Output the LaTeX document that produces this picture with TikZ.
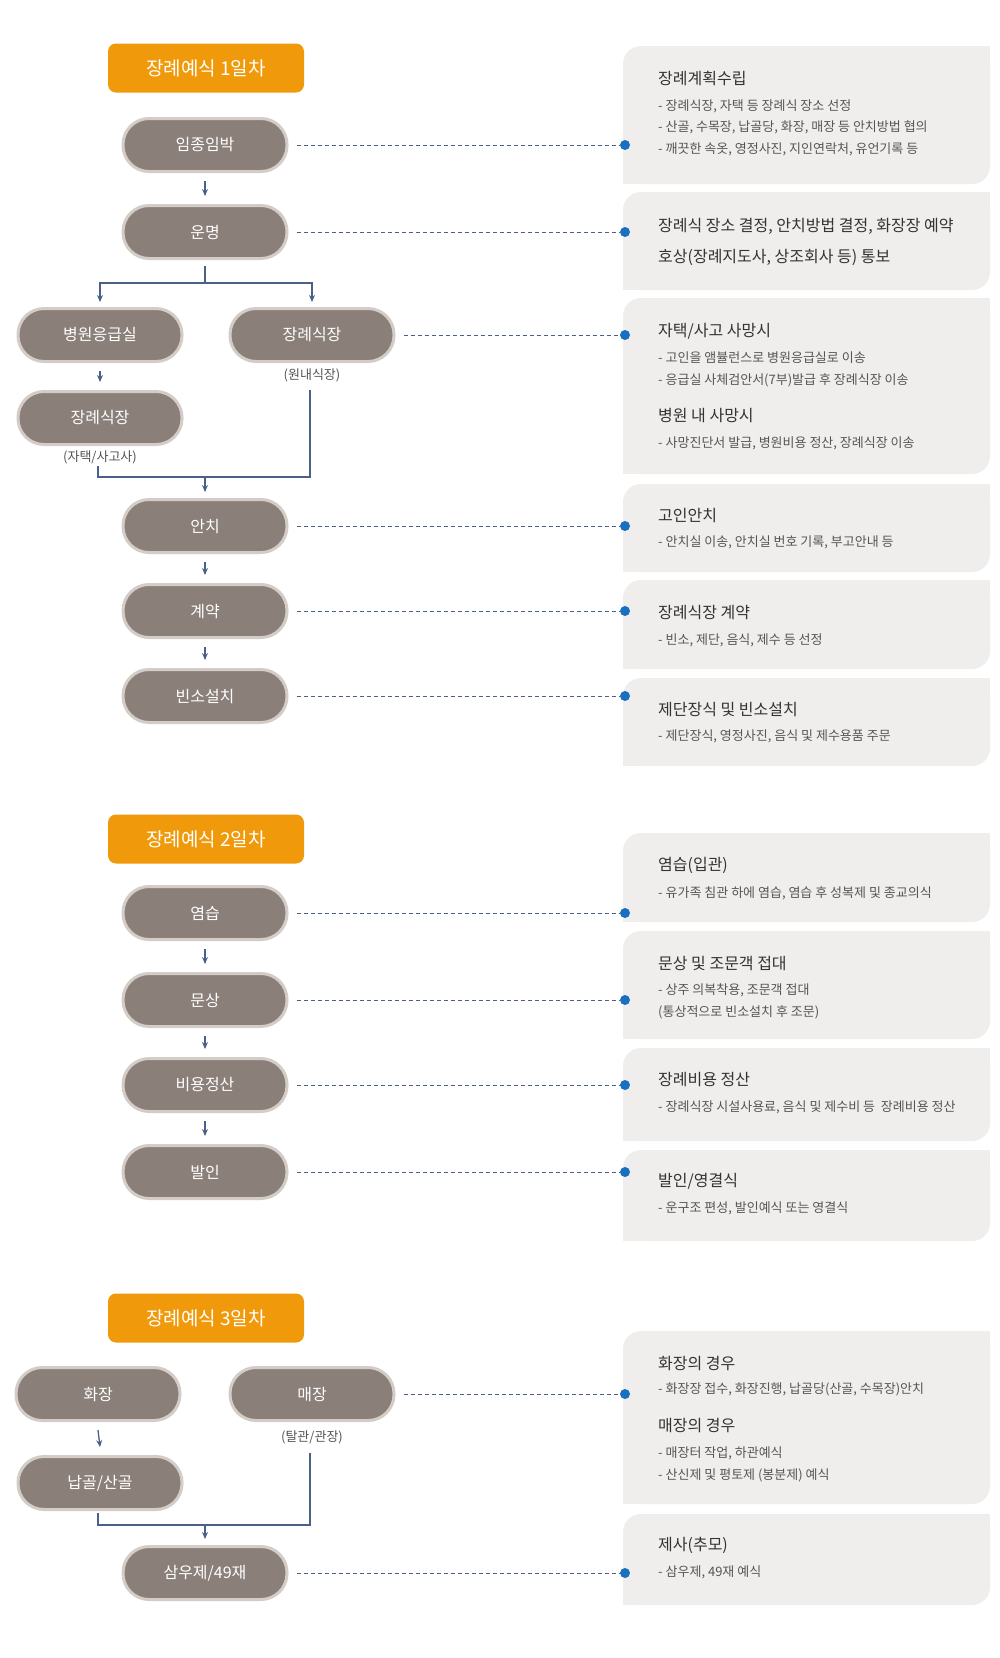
\documentclass[tikz,border=0pt]{standalone}
\usepackage{fontspec}
\setmainfont{Noto Sans CJK KR}
\usetikzlibrary{arrows.meta}
\definecolor{pillc}{HTML}{8B7F79}
\definecolor{pillb}{HTML}{D4CDC7}
\definecolor{orangec}{HTML}{F09A0B}
\definecolor{cardc}{HTML}{EFEEED}
\definecolor{linec}{HTML}{4B6088}
\definecolor{dotc}{HTML}{1A6FBF}
\definecolor{titc}{HTML}{333333}
\definecolor{bodc}{HTML}{555555}
\tikzset{
  pill/.style={draw=pillb,fill=pillc,line width=3pt,rounded corners=26pt,minimum width=164pt,minimum height=53pt,text=white,font=\fontsize{16}{18}\selectfont,inner sep=0pt},
  hdr/.style={fill=orangec,rounded corners=8pt,minimum width=196pt,minimum height=49pt,text=white,font=\fontsize{19}{21}\selectfont,inner sep=0pt},
  captn/.style={text=bodc,font=\fontsize{13}{15}\selectfont},
  ttl/.style={anchor=west,text=titc,font=\fontsize{16}{18}\selectfont,inner sep=0pt},
  bod/.style={anchor=west,text=bodc,font=\fontsize{13}{15}\selectfont,inner sep=0pt},
  arr/.style={draw=linec,line width=1.3pt,-{Stealth[length=7pt,width=6pt]}},
  seg/.style={draw=linec,line width=1.3pt},
  dashln/.style={draw=linec,line width=0.8pt,dash pattern=on 4pt off 3pt},
  dotn/.style={circle,fill=dotc,minimum size=10pt,inner sep=0pt}
}
\newcommand\mycard[2]{\fill[cardc,rounded corners=18pt] (623,#1) rectangle (990,#2);
 \fill[cardc] (960,#1) rectangle (990,#1+30); \fill[cardc] (623,#2) rectangle (653,#2-30);}
\begin{document}
\begin{tikzpicture}[x=1pt,y=-1pt]
\useasboundingbox[fill=white] (0,0) rectangle (1000,1658);
% cards
\mycard{46}{184}\mycard{192}{290}\mycard{298}{474}\mycard{484}{572}\mycard{580}{669}\mycard{678}{766}
\mycard{833}{922}\mycard{931}{1039}\mycard{1048}{1141}\mycard{1150}{1241}
\mycard{1331}{1504}\mycard{1514}{1605}
% card texts
\node[ttl] (t1) at (658,78) {장례계획수립};
\node[bod] (b1a) at (658,106) {- 장례식장, 자택 등 장례식 장소 선정};
\node[bod] (b1b) at (658,127) {- 산골, 수목장, 납골당, 화장, 매장 등 안치방법 협의};
\node[bod] (b1c) at (658,149) {- 깨끗한 속옷, 영정사진, 지인연락처, 유언기록 등};
\node[ttl] (t2a) at (658,226) {장례식 장소 결정, 안치방법 결정, 화장장 예약};
\node[ttl] (t2b) at (658,257) {호상(장례지도사, 상조회사 등) 통보};
\node[ttl] (t3) at (658,331) {자택/사고 사망시};
\node[bod] (b3a) at (658,358) {- 고인을 앰뷸런스로 병원응급실로 이송};
\node[bod] (b3b) at (658,380) {- 응급실 사체검안서(7부)발급 후 장례식장 이송};
\node[ttl] (t3b) at (658,416) {병원 내 사망시};
\node[bod] (b3c) at (658,443) {- 사망진단서 발급, 병원비용 정산, 장례식장 이송};
\node[ttl] (t4) at (658,515) {고인안치};
\node[bod] (b4) at (658,542) {- 안치실 이송, 안치실 번호 기록, 부고안내 등};
\node[ttl] (t5) at (658,612) {장례식장 계약};
\node[bod] (b5) at (658,640) {- 빈소, 제단, 음식, 제수 등 선정};
\node[ttl] (t6) at (658,709) {제단장식 및 빈소설치};
\node[bod] (b6) at (658,736) {- 제단장식, 영정사진, 음식 및 제수용품 주문};
\node[ttl] (t7) at (658,865) {염습(입관)};
\node[bod] (b7) at (658,893) {- 유가족 침관 하에 염습, 염습 후 성복제 및 종교의식};
\node[ttl] (t8) at (658,963) {문상 및 조문객 접대};
\node[bod] (b8a) at (658,990) {- 상주 의복착용, 조문객 접대};
\node[bod] (b8b) at (658,1012) {(통상적으로 빈소설치 후 조문)};
\node[ttl] (t9) at (658,1080) {장례비용 정산};
\node[bod] (b9) at (658,1107) {- 장례식장 시설사용료, 음식 및 제수비 등 \ 장례비용 정산};
\node[ttl] (t10) at (658,1181) {발인/영결식};
\node[bod] (b10) at (658,1208) {- 운구조 편성, 발인예식 또는 영결식};
\node[ttl] (t11) at (658,1363) {화장의 경우};
\node[bod] (b11a) at (658,1389) {- 화장장 접수, 화장진행, 납골당(산골, 수목장)안치};
\node[ttl] (t11b) at (658,1425) {매장의 경우};
\node[bod] (b11b) at (658,1453) {- 매장터 작업, 하관예식};
\node[bod] (b11c) at (658,1475) {- 산신제 및 평토제 (봉분제) 예식};
\node[ttl] (t12) at (658,1545) {제사(추모)};
\node[bod] (b12) at (658,1572) {- 삼우제, 49재 예식};
% headers
\node[hdr] (h1) at (206,68) {장례예식 1일차};
\node[hdr] (h2) at (206,839) {장례예식 2일차};
\node[hdr] (h3) at (206,1318) {장례예식 3일차};
% day1 pills
\node[pill] (p1) at (205,145) {임종임박};
\node[pill] (p2) at (205,232) {운명};
\node[pill] (p3) at (100,335) {병원응급실};
\node[pill] (p4) at (312,335) {장례식장};
\node[captn] (c4) at (312,375) {(원내식장)};
\node[pill] (p5) at (100,418) {장례식장};
\node[captn] (c5) at (100,457) {(자택/사고사)};
\node[pill] (p6) at (205,526) {안치};
\node[pill] (p7) at (205,611) {계약};
\node[pill] (p8) at (205,696) {빈소설치};
% day2
\node[pill] (q1) at (205,913) {염습};
\node[pill] (q2) at (205,1000) {문상};
\node[pill] (q3) at (205,1085) {비용정산};
\node[pill] (q4) at (205,1172) {발인};
% day3
\node[pill] (r1) at (98,1394) {화장};
\node[pill] (r2) at (312,1394) {매장};
\node[captn] (c6) at (312,1437) {(탈관/관장)};
\node[pill] (r3) at (100,1483) {납골/산골};
\node[pill] (r4) at (205,1573) {삼우제/49재};
% arrows
\draw[arr] ([yshift=-8pt]p1.south) -- ([yshift=8pt]p2.north);
\coordinate (br) at (205,283);
\draw[seg] ([yshift=-6pt]p2.south) -- (br);
\draw[arr] (br) -| ([yshift=5pt]p3.north);
\draw[arr] (br) -| ([yshift=5pt]p4.north);
\draw[arr] ([yshift=-8pt]p3.south) -- ([yshift=8pt]p5.north);
\coordinate (m1) at (205,477);
\draw[seg] (98,466) |- (m1);
\draw[seg] (310,390) |- (m1);
\draw[arr] (m1) -- ([yshift=6pt]p6.north);
\draw[arr] ([yshift=-8pt]p6.south) -- ([yshift=8pt]p7.north);
\draw[arr] ([yshift=-8pt]p7.south) -- ([yshift=8pt]p8.north);
\draw[arr] ([yshift=-8pt]q1.south) -- ([yshift=8pt]q2.north);
\draw[arr] ([yshift=-8pt]q2.south) -- ([yshift=8pt]q3.north);
\draw[arr] ([yshift=-8pt]q3.south) -- ([yshift=8pt]q4.north);
\draw[arr] ([yshift=-8pt]r1.south) -- ([yshift=8pt]r3.north);
\coordinate (m2) at (205,1525);
\draw[seg] (98,1513) |- (m2);
\draw[seg] (310,1453) |- (m2);
\draw[arr] (m2) -- ([yshift=6pt]r4.north);
% dashed connectors
\foreach \p/\y/\n in {p1/145/d1,p2/232/d2,p4/335/d3,p6/526/d4,p7/611/d5,p8/696/d6,q1/913/d7,q2/1000/d8,q3/1085/d9,q4/1172/d10,r2/1394/d11,r4/1573/d12}{
  \node[dotn] (\n) at (625,\y) {};
  \draw[dashln] ([xshift=8pt]\p.east) -- (\n);
}
\end{tikzpicture}
\end{document}
